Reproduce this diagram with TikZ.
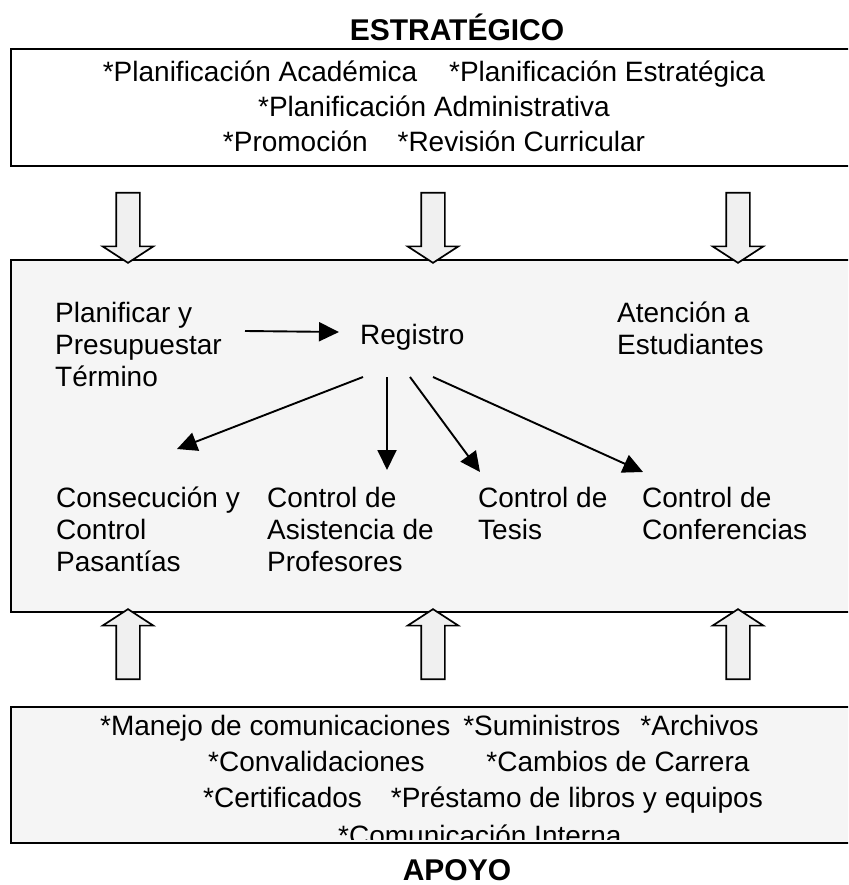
\documentclass[tikz,border=0pt]{standalone}
\usepackage{fontspec}
\setmainfont{Liberation Sans}
\usetikzlibrary{positioning, shapes, arrows.meta}

\begin{document}
\begin{tikzpicture}[x=1pt, y=-1pt]
	\tikzstyle{caja} = [rectangle, draw, line width=1.9pt, minimum width=850pt, inner sep=0pt]
	\tikzstyle{texto} = [inner sep=0pt, align=left, anchor=base west, font=\fontsize{28}{32}\selectfont]
	\tikzstyle{titulo} = [inner sep=0pt, anchor=base, font=\bfseries\fontsize{30}{36}\selectfont]
	\tikzstyle{flechagruesa} = [single arrow, draw, line width=1.7pt, fill=gray!12, minimum height=70pt, inner xsep=0pt, inner ysep=11pt, single arrow head extend=13.5pt, single arrow tip angle=114]
	\tikzstyle{flecha} = [line width=1.9pt, -{Triangle[length=20pt, width=19pt]}]
	
	\useasboundingbox (0,0) rectangle (848,885);
	\clip (0,0) rectangle (848,885);
	
	% nivel estrategico
	\node [titulo] (tituloE) at (457,41) {ESTRATÉGICO};
	\node [caja, minimum height=117pt] (estrategico) at (436,107.5) {};
	\node [texto, align=center, anchor=base, font=\fontsize{28}{35}\selectfont] (lineasE) at (434,152) {*Planificación Académica\hspace{32pt}*Planificación Estratégica\\*Planificación Administrativa\\*Promoción\hspace{30pt}*Revisión Curricular};
	
	% nivel operativo
	\node [caja, fill=gray!8, minimum height=352pt] (operativo) at (436,436) {};
	\node [flechagruesa, rotate=-90] (baja1) at (128,224) {};
	\node [flechagruesa, rotate=-90] (baja2) at (433,224) {};
	\node [flechagruesa, rotate=-90] (baja3) at (738,224) {};
	
	\node [texto] (planificar) at (55,386) {Planificar y\\Presupuestar\\Término};
	\node [texto] (registro) at (360,344) {Registro};
	\node [texto] (atencion) at (617,354) {Atención a\\Estudiantes};
	\node [texto] (consecucion) at (56,571) {Consecución y\\Control\\Pasantías};
	\node [texto] (asistencia) at (267,571) {Control de\\Asistencia de\\Profesores};
	\node [texto] (tesis) at (478,539) {Control de\\Tesis};
	\node [texto] (conferencias) at (642,539) {Control de\\Conferencias};
	
	\draw [flecha] ([shift={(190,-55)}]planificar.base west) -- ([shift={(-21,-12)}]registro.base west);
	\draw [flecha] ([shift={(3,33)}]registro.base west) -- ([shift={(121,-122)}]consecucion.base west);
	\draw [flecha] ([shift={(27,33)}]registro.base west) -- ([shift={(120,-101)}]asistencia.base west);
	\draw [flecha] ([shift={(50,33)}]registro.base west) -- ([shift={(2,-67)}]tesis.base west);
	\draw [flecha] ([shift={(73,33)}]registro.base west) -- ([shift={(1,-67)}]conferencias.base west);
	
	% nivel de apoyo
	\node [caja, fill=gray!8, minimum height=136pt] (apoyo) at (436,775) {};
	\node [flechagruesa, rotate=90] (sube1) at (128,648) {};
	\node [flechagruesa, rotate=90] (sube2) at (433,648) {};
	\node [flechagruesa, rotate=90] (sube3) at (738,648) {};
	
	\begin{scope}
		\clip (12,708) rectangle (848,839);
		\node [texto] (manejo) at (100,735) {*Manejo de comunicaciones\hspace{13pt}*Suministros\hspace{20pt}*Archivos};
		\node [texto] (convalidaciones) at (208,771) {*Convalidaciones\hspace{62pt}*Cambios de Carrera};
		\node [texto] (certificados) at (203,807) {*Certificados\hspace{29pt}*Préstamo de libros y equipos};
		\node [texto] (comunicacion) at (338,845) {*Comunicación Interna};
	\end{scope}
	
	\node [titulo] (tituloA) at (457,880) {APOYO};
\end{tikzpicture}
\end{document}
